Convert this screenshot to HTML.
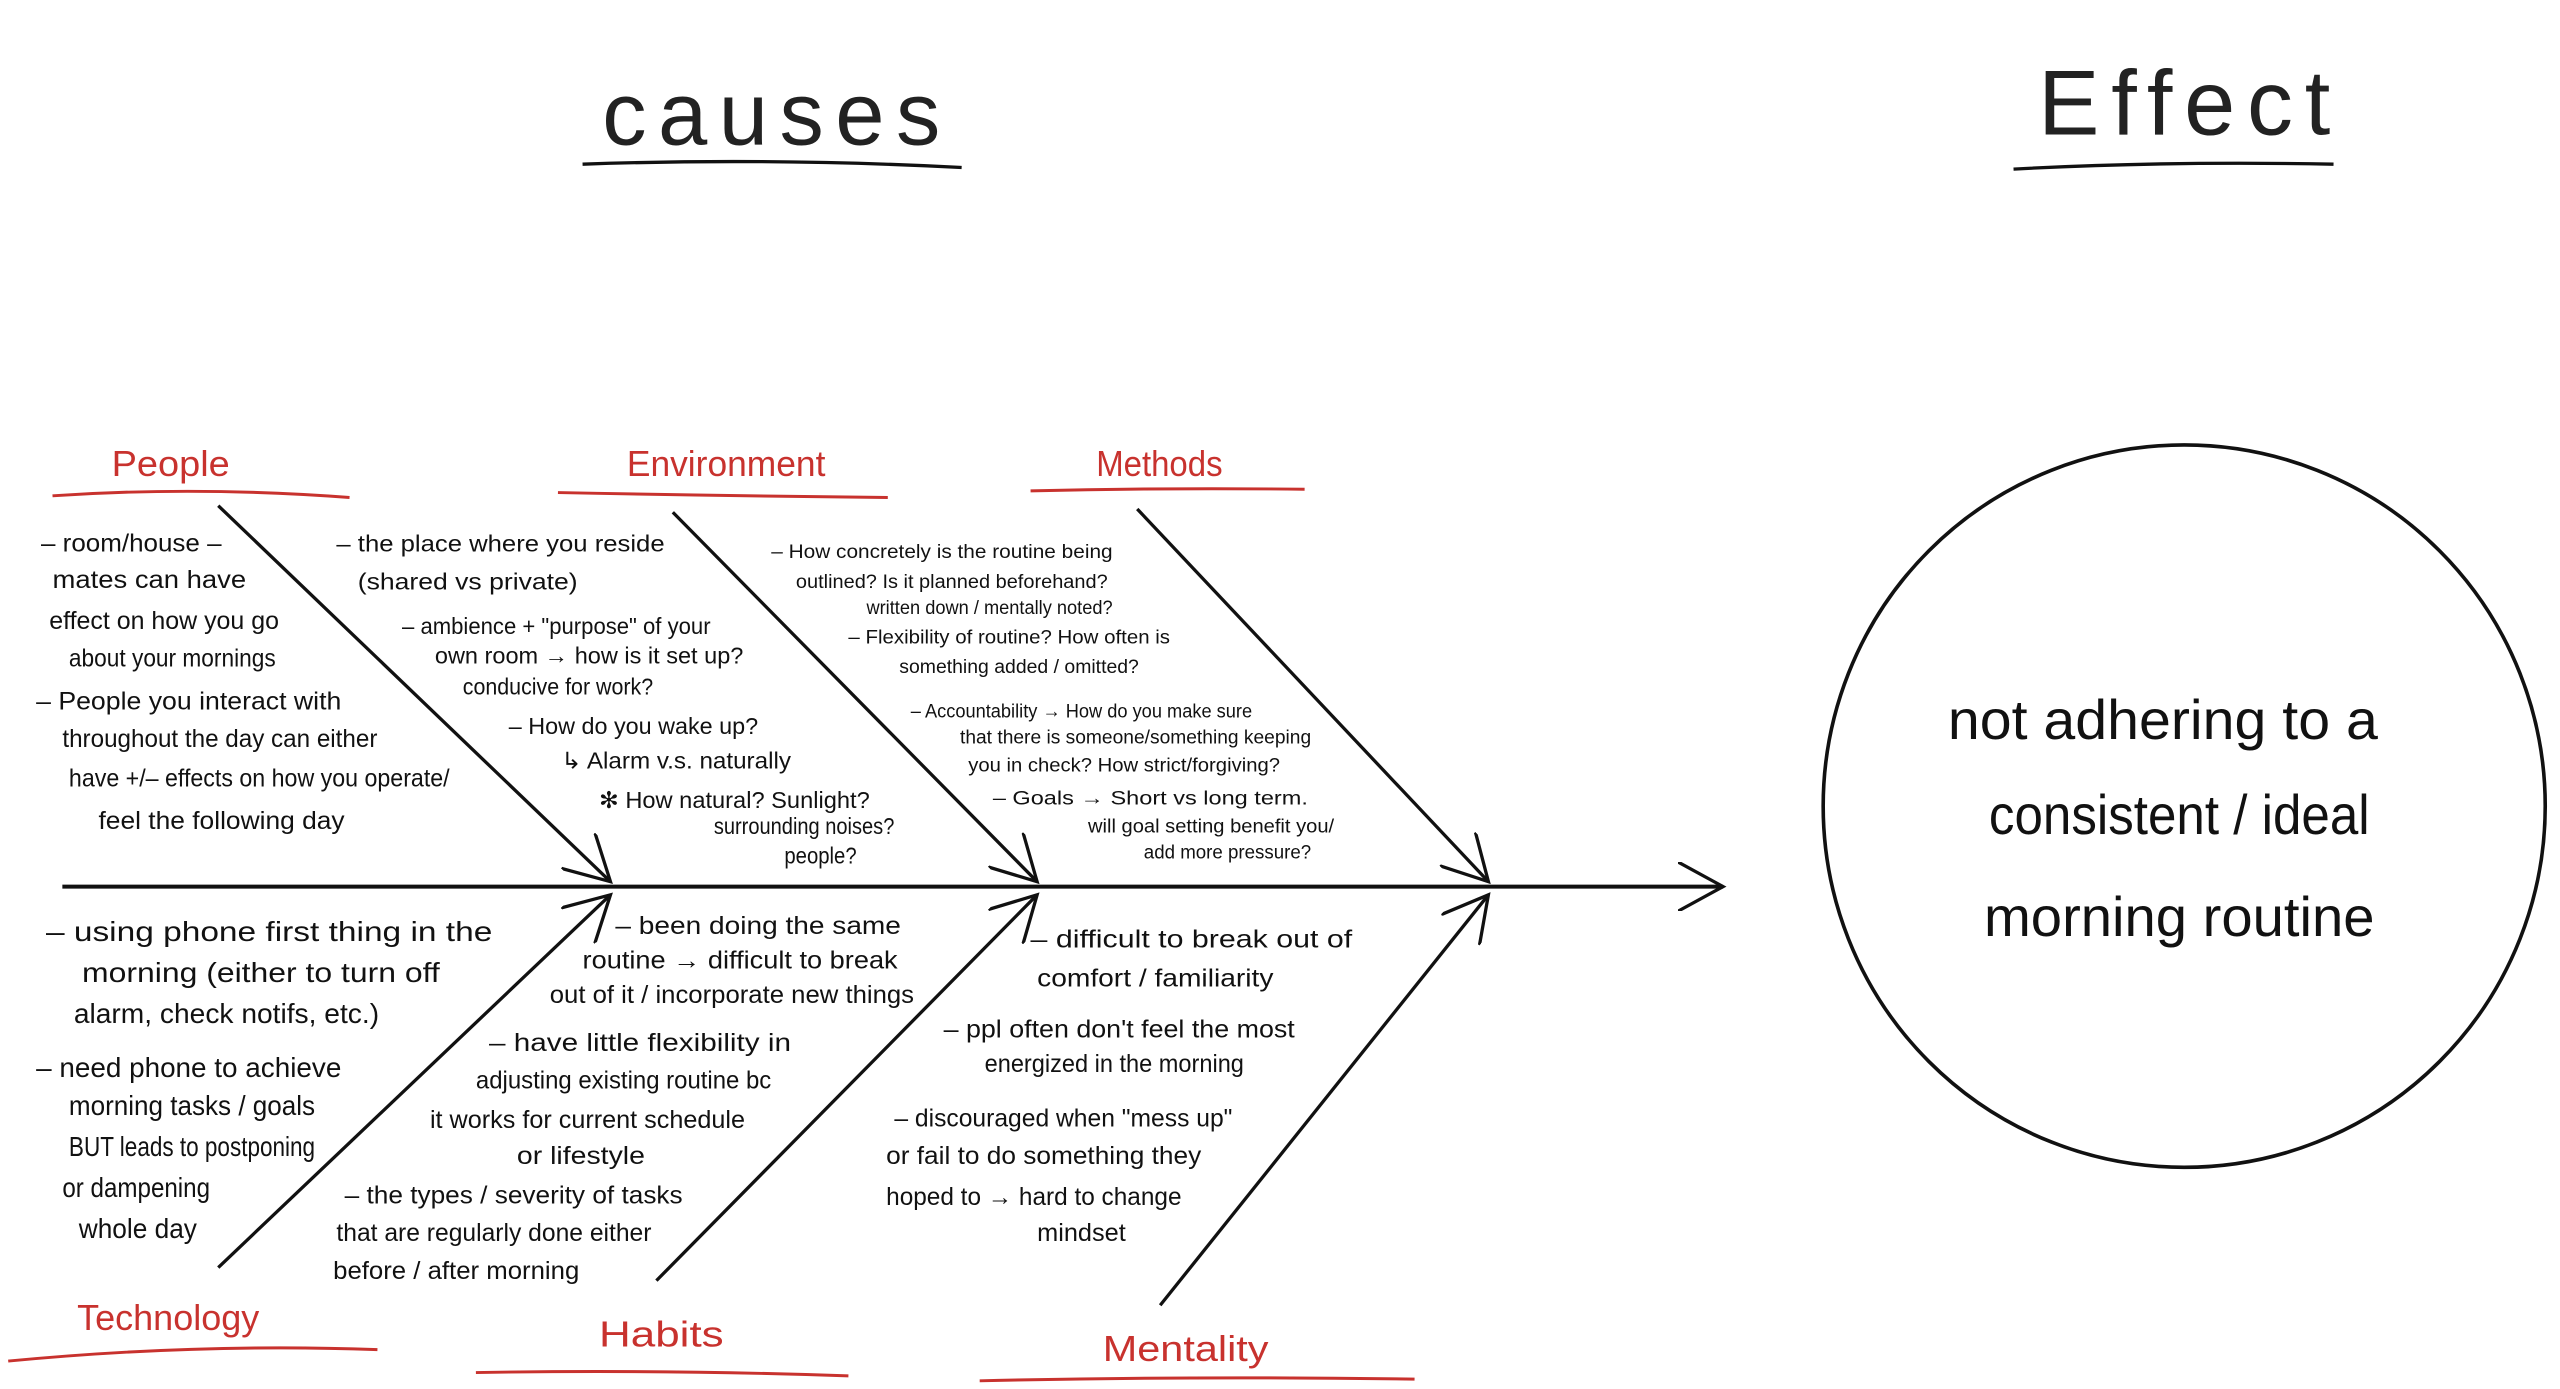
<!DOCTYPE html>
<html><head><meta charset="utf-8"><style>
html,body{margin:0;padding:0;background:#fff;overflow:hidden}
svg{display:block}
text{font-family:"Liberation Sans Narrow","Liberation Sans",sans-serif;fill:#111}
.r{fill:#c8322e}
</style></head><body>
<svg width="2560" height="1389" viewBox="0 0 1560 846" preserveAspectRatio="none" xmlns="http://www.w3.org/2000/svg">
<defs>
<marker id="b" viewBox="0 0 12 12" refX="11" refY="6" markerWidth="30" markerHeight="30" markerUnits="userSpaceOnUse" orient="auto">
<path d="M0,0 L11,6 L0,12" fill="none" stroke="#111" stroke-width="0.8"/></marker>
</defs>
<!-- titles -->
<text x="367" y="88" font-size="54" textLength="206" lengthAdjust="spacing" style="font-family:'Liberation Sans',sans-serif;fill:#222">causes</text>
<path d="M355 100 Q470 96 586 102" stroke="#111" stroke-width="2" fill="none"/>
<text x="1242" y="82" font-size="56" textLength="178" lengthAdjust="spacing" style="font-family:'Liberation Sans',sans-serif;fill:#222">Effect</text>
<path d="M1227 103 Q1320 98 1422 100" stroke="#111" stroke-width="2" fill="none"/>
<!-- spine -->
<line x1="38" y1="540" x2="1050" y2="540" stroke="#111" stroke-width="2.4" marker-end="url(#b)"/>
<!-- branches -->
<g stroke="#111" stroke-width="2" fill="none" marker-end="url(#b)">
<line x1="133" y1="308" x2="372" y2="537"/>
<line x1="410" y1="312" x2="632" y2="537"/>
<line x1="693" y1="310" x2="907" y2="537"/>
<line x1="133" y1="772" x2="372" y2="545"/>
<line x1="400" y1="780" x2="632" y2="545"/>
<line x1="707" y1="795" x2="907" y2="545"/>
</g>
<!-- red labels -->
<g class="r" font-size="22">
<text class="r" x="68" y="290" textLength="72" lengthAdjust="spacingAndGlyphs">People</text>
<text class="r" x="382" y="290" textLength="121" lengthAdjust="spacingAndGlyphs">Environment</text>
<text class="r" x="668" y="290" textLength="77" lengthAdjust="spacingAndGlyphs">Methods</text>
<text class="r" x="47" y="810" textLength="111" lengthAdjust="spacingAndGlyphs">Technology</text>
<text class="r" x="365" y="820" textLength="76" lengthAdjust="spacingAndGlyphs">Habits</text>
<text class="r" x="672" y="829" textLength="101" lengthAdjust="spacingAndGlyphs">Mentality</text>
</g>
<g stroke="#c8322e" stroke-width="1.8" fill="none">
<path d="M32 302 Q120 296 213 303"/>
<path d="M340 300 Q440 302 541 303"/>
<path d="M628 299 Q710 297 795 298"/>
<path d="M5 829 Q120 818 230 822"/>
<path d="M290 836 Q400 834 517 838"/>
<path d="M597 841 Q730 838 862 840"/>
</g>
<!-- People text -->
<g font-size="15">
<text x="25" y="336" textLength="110" lengthAdjust="spacingAndGlyphs">– room/house –</text>
<text x="32" y="358" textLength="118" lengthAdjust="spacingAndGlyphs">mates can have</text>
<text x="30" y="383" textLength="140" lengthAdjust="spacingAndGlyphs">effect on how you go</text>
<text x="42" y="406" textLength="126" lengthAdjust="spacingAndGlyphs">about your mornings</text>
<text x="22" y="432" textLength="186" lengthAdjust="spacingAndGlyphs">– People you interact with</text>
<text x="38" y="455" textLength="192" lengthAdjust="spacingAndGlyphs">throughout the day can either</text>
<text x="42" y="479" textLength="232" lengthAdjust="spacingAndGlyphs">have +/– effects on how you operate/</text>
<text x="60" y="505" textLength="150" lengthAdjust="spacingAndGlyphs">feel the following day</text>
</g>
<!-- Environment text -->
<g font-size="14">
<text x="205" y="336" textLength="200" lengthAdjust="spacingAndGlyphs">– the place where you reside</text>
<text x="218" y="359" textLength="134" lengthAdjust="spacingAndGlyphs">(shared vs private)</text>
<text x="245" y="386" textLength="188" lengthAdjust="spacingAndGlyphs">– ambience + "purpose" of your</text>
<text x="265" y="404" textLength="188" lengthAdjust="spacingAndGlyphs">own room → how is it set up?</text>
<text x="282" y="423" textLength="116" lengthAdjust="spacingAndGlyphs">conducive for work?</text>
<text x="310" y="447" textLength="152" lengthAdjust="spacingAndGlyphs">– How do you wake up?</text>
<text x="342" y="468" textLength="140" lengthAdjust="spacingAndGlyphs">↳ Alarm v.s. naturally</text>
<text x="365" y="492" textLength="165" lengthAdjust="spacingAndGlyphs">✻ How natural? Sunlight?</text>
<text x="435" y="508" textLength="110" lengthAdjust="spacingAndGlyphs">surrounding noises?</text>
<text x="478" y="526" textLength="44" lengthAdjust="spacingAndGlyphs">people?</text>
</g>
<!-- Methods text -->
<g font-size="12">
<text x="470" y="340" textLength="208" lengthAdjust="spacingAndGlyphs">– How concretely is the routine being</text>
<text x="485" y="358" textLength="190" lengthAdjust="spacingAndGlyphs">outlined? Is it planned beforehand?</text>
<text x="528" y="374" textLength="150" lengthAdjust="spacingAndGlyphs">written down / mentally noted?</text>
<text x="517" y="392" textLength="196" lengthAdjust="spacingAndGlyphs">– Flexibility of routine? How often is</text>
<text x="548" y="410" textLength="146" lengthAdjust="spacingAndGlyphs">something added / omitted?</text>
<text x="555" y="437" textLength="208" lengthAdjust="spacingAndGlyphs">– Accountability → How do you make sure</text>
<text x="585" y="453" textLength="214" lengthAdjust="spacingAndGlyphs">that there is someone/something keeping</text>
<text x="590" y="470" textLength="190" lengthAdjust="spacingAndGlyphs">you in check? How strict/forgiving?</text>
<text x="605" y="490" textLength="192" lengthAdjust="spacingAndGlyphs">– Goals → Short vs long term.</text>
<text x="663" y="507" textLength="150" lengthAdjust="spacingAndGlyphs">will goal setting benefit you/</text>
<text x="697" y="523" textLength="102" lengthAdjust="spacingAndGlyphs">add more pressure?</text>
</g>
<!-- Technology text -->
<g font-size="17">
<text x="28" y="573" textLength="272" lengthAdjust="spacingAndGlyphs">– using phone first thing in the</text>
<text x="50" y="598" textLength="218" lengthAdjust="spacingAndGlyphs">morning (either to turn off</text>
<text x="45" y="623" textLength="186" lengthAdjust="spacingAndGlyphs">alarm, check notifs, etc.)</text>
<text x="22" y="656" textLength="186" lengthAdjust="spacingAndGlyphs">– need phone to achieve</text>
<text x="42" y="679" textLength="150" lengthAdjust="spacingAndGlyphs">morning tasks / goals</text>
<text x="42" y="704" textLength="150" lengthAdjust="spacingAndGlyphs">BUT leads to postponing</text>
<text x="38" y="729" textLength="90" lengthAdjust="spacingAndGlyphs">or dampening</text>
<text x="48" y="754" textLength="72" lengthAdjust="spacingAndGlyphs">whole day</text>
</g>
<!-- Habits text -->
<g font-size="15">
<text x="375" y="569" textLength="174" lengthAdjust="spacingAndGlyphs">– been doing the same</text>
<text x="355" y="590" textLength="192" lengthAdjust="spacingAndGlyphs">routine → difficult to break</text>
<text x="335" y="611" textLength="222" lengthAdjust="spacingAndGlyphs">out of it / incorporate new things</text>
<text x="298" y="640" textLength="184" lengthAdjust="spacingAndGlyphs">– have little flexibility in</text>
<text x="290" y="663" textLength="180" lengthAdjust="spacingAndGlyphs">adjusting existing routine bc</text>
<text x="262" y="687" textLength="192" lengthAdjust="spacingAndGlyphs">it works for current schedule</text>
<text x="315" y="709" textLength="78" lengthAdjust="spacingAndGlyphs">or lifestyle</text>
<text x="210" y="733" textLength="206" lengthAdjust="spacingAndGlyphs">– the types / severity of tasks</text>
<text x="205" y="756" textLength="192" lengthAdjust="spacingAndGlyphs">that are regularly done either</text>
<text x="203" y="779" textLength="150" lengthAdjust="spacingAndGlyphs">before / after morning</text>
</g>
<!-- Mentality text -->
<g font-size="15">
<text x="628" y="577" textLength="196" lengthAdjust="spacingAndGlyphs">– difficult to break out of</text>
<text x="632" y="601" textLength="144" lengthAdjust="spacingAndGlyphs">comfort / familiarity</text>
<text x="575" y="632" textLength="214" lengthAdjust="spacingAndGlyphs">– ppl often don't feel the most</text>
<text x="600" y="653" textLength="158" lengthAdjust="spacingAndGlyphs">energized in the morning</text>
<text x="545" y="686" textLength="206" lengthAdjust="spacingAndGlyphs">– discouraged when "mess up"</text>
<text x="540" y="709" textLength="192" lengthAdjust="spacingAndGlyphs">or fail to do something they</text>
<text x="540" y="734" textLength="180" lengthAdjust="spacingAndGlyphs">hoped to → hard to change</text>
<text x="632" y="756" textLength="54" lengthAdjust="spacingAndGlyphs">mindset</text>
</g>
<!-- effect circle -->
<circle cx="1331" cy="491" r="220" fill="none" stroke="#111" stroke-width="2.2"/>
<g font-size="34" text-anchor="middle">
<text x="1318" y="450" textLength="262" lengthAdjust="spacingAndGlyphs">not adhering to a</text>
<text x="1328" y="508" textLength="232" lengthAdjust="spacingAndGlyphs">consistent / ideal</text>
<text x="1328" y="570" textLength="238" lengthAdjust="spacingAndGlyphs">morning routine</text>
</g>
</svg>
</body></html>
